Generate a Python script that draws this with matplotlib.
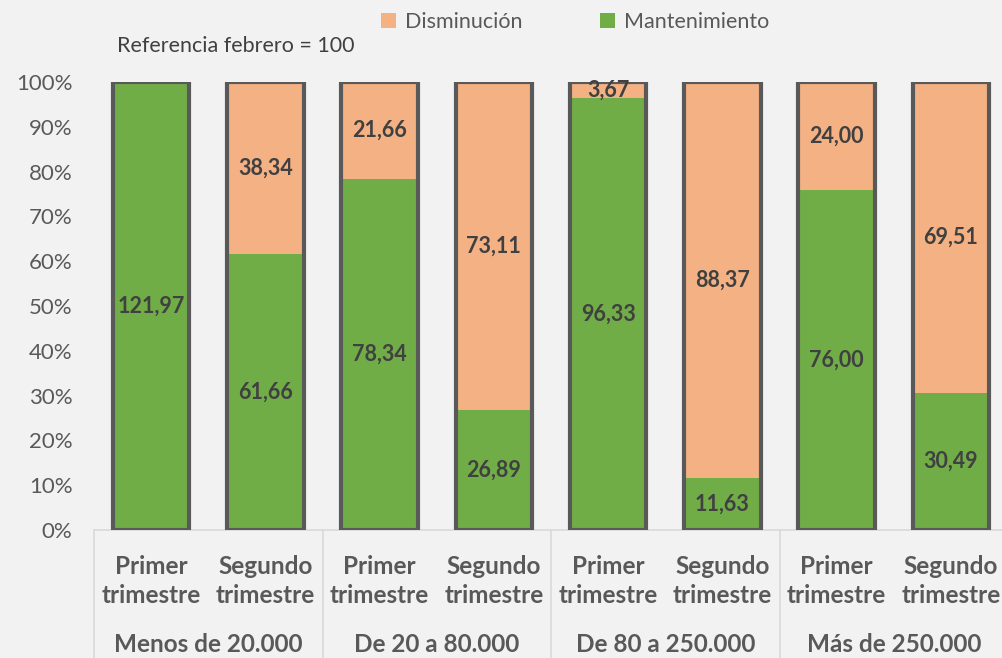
import matplotlib.pyplot as plt
import matplotlib.transforms as mtransforms
from matplotlib.patches import Patch

plt.rcParams['font.family'] = ['Lato', 'DejaVu Sans']

# Datos
grupos = ["Menos de 20.000", "De 20 a 80.000", "De 80 a 250.000", "Más de 250.000"]
trimestres = ["Primer\ntrimestre", "Segundo\ntrimestre"]
mantenimiento = [100.0, 61.66, 78.34, 26.89, 96.33, 11.63, 76.00, 30.49]
disminucion = [0.0, 38.34, 21.66, 73.11, 3.67, 88.37, 24.00, 69.51]
etiq_mant = ["121,97", "61,66", "78,34", "26,89", "96,33", "11,63", "76,00", "30,49"]
etiq_dism = ["", "38,34", "21,66", "73,11", "3,67", "88,37", "24,00", "69,51"]

verde = "#70AD47"
naranja = "#F4B183"
borde = "#595959"
fondo = "#F2F2F2"
gris_txt = "#595959"
oscuro = "#404040"

fig = plt.figure(figsize=(10.03, 6.58), dpi=100, facecolor=fondo)
ax = fig.add_axes([94 / 1003, 128 / 658, 914 / 1003, 448 / 658])
ax.set_facecolor(fondo)

x = list(range(len(mantenimiento)))
ancho = 0.67
ax.bar(x, mantenimiento, width=ancho, color=verde, linewidth=0, zorder=2)
ax.bar(x, disminucion, width=ancho, bottom=mantenimiento, color=naranja, linewidth=0, zorder=2)
totales = [m + d for m, d in zip(mantenimiento, disminucion)]
ax.bar(x, totales, width=ancho, fill=False, edgecolor=borde, linewidth=3, zorder=3)

for i in x:
    ax.text(i, mantenimiento[i] / 2, etiq_mant[i], ha="center", va="center",
            fontsize=15.5, fontweight="bold", color=oscuro, zorder=4)
    if etiq_dism[i]:
        ax.text(i, mantenimiento[i] + disminucion[i] / 2, etiq_dism[i], ha="center", va="center",
                fontsize=15.5, fontweight="bold", color=oscuro, zorder=4)

ax.set_xlim(-0.5, len(x) - 0.5)
ax.set_ylim(0, 100)
ax.set_yticks(range(0, 101, 10))
ax.set_yticklabels([f"{v}%" for v in range(0, 101, 10)], fontsize=16, color=gris_txt)
ax.tick_params(axis="y", length=0, pad=15.5)
ax.set_xticks([])
for s in ["top", "right", "left"]:
    ax.spines[s].set_visible(False)
ax.spines["bottom"].set_color("#D9D9D9")
ax.spines["bottom"].set_linewidth(1.2)

# Etiquetas de categorías en dos niveles
trans = mtransforms.blended_transform_factory(ax.transData, fig.transFigure)
for i in x:
    ax.text(i, 1 - 581 / 658, trimestres[i % 2], transform=trans, ha="center", va="center",
            fontsize=17.5, fontweight="bold", color=gris_txt, linespacing=1.3, clip_on=False)
for g, nombre in enumerate(grupos):
    ax.text(2 * g + 0.5, 1 - 645 / 658, nombre, transform=trans, ha="center", va="center",
            fontsize=17.5, fontweight="bold", color=gris_txt, clip_on=False)
for g in range(len(grupos)):
    ax.plot([2 * g - 0.5, 2 * g - 0.5], [1 - 530 / 658, 0], transform=trans,
            color="#D9D9D9", linewidth=1.2, clip_on=False)

fig.text(117 / 1003, 1 - 46 / 658, "Referencia febrero = 100", fontsize=15.5,
         color=oscuro, va="center")

handles = [Patch(facecolor=naranja, label="Disminución"),
           Patch(facecolor=verde, label="Mantenimiento")]
fig.legend(handles=handles, loc="center", bbox_to_anchor=(575 / 1003, 1 - 22 / 658),
           ncol=2, frameon=False, fontsize=15.5, labelcolor=gris_txt,
           handlelength=0.7, handleheight=0.7, handletextpad=0.4, columnspacing=3.6)

fig.savefig("out.png", dpi=100, facecolor=fondo)
